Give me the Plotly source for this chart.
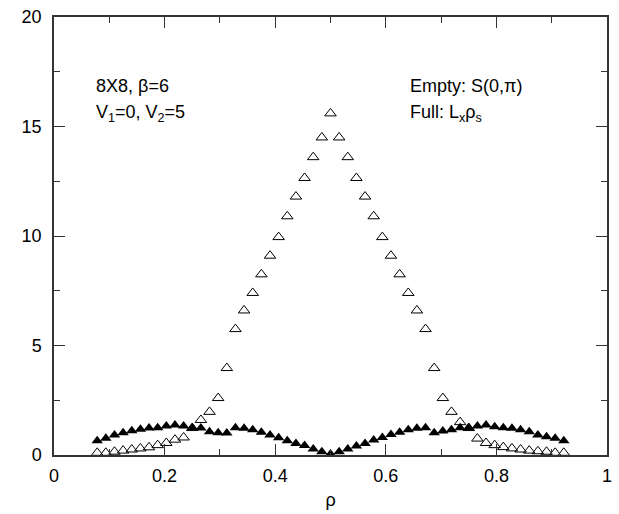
import plotly.graph_objects as go

n_sites = list(range(5, 60))
rho = [n / 64 for n in n_sites]

s_empty = [0.10, 0.10, 0.15, 0.20, 0.25, 0.30, 0.35, 0.45, 0.55, 0.70,
           0.80, 1.23, 1.60, 1.97, 2.60, 3.97, 5.75, 6.60, 7.40, 8.25,
           9.10, 9.95, 10.90, 11.80, 12.65, 13.60, 14.50, 15.60, 14.50, 13.60,
           12.65, 11.80, 10.90, 9.95, 9.10, 8.25, 7.40, 6.60, 5.75, 3.97,
           2.60, 1.97, 1.50, 1.23, 0.75, 0.55, 0.45, 0.36, 0.30, 0.25,
           0.20, 0.17, 0.15, 0.10, 0.10]

lx_rhos = [0.65, 0.77, 0.91, 1.02, 1.11, 1.18, 1.23, 1.25, 1.32, 1.37,
           1.32, 1.25, 1.23, 1.06, 1.02, 1.00, 1.25, 1.22, 1.15, 1.04,
           0.91, 0.79, 0.65, 0.53, 0.43, 0.27, 0.15, 0.05, 0.15, 0.27,
           0.41, 0.53, 0.68, 0.80, 0.94, 1.04, 1.15, 1.22, 1.24, 1.02,
           1.10, 1.15, 1.25, 1.25, 1.32, 1.37, 1.29, 1.25, 1.22, 1.15,
           1.06, 0.91, 0.83, 0.76, 0.65]

x_ticks = [0, 0.2, 0.4, 0.6, 0.8, 1]
x_tick_text = ["0", "0.2", "0.4", "0.6", "0.8", "1"]
y_ticks = [0, 5, 10, 15, 20]

fig = go.Figure()
fig.add_trace(go.Scatter(
    x=rho, y=s_empty, mode="markers",
    marker=dict(symbol="triangle-up-open", size=10, color="black",
                line=dict(width=1, color="black")),
    showlegend=False, cliponaxis=False))
fig.add_trace(go.Scatter(
    x=rho, y=lx_rhos, mode="markers",
    marker=dict(symbol="triangle-up", size=10, color="black",
                line=dict(width=0)),
    showlegend=False, cliponaxis=False))

font = dict(family="Liberation Sans, Arial, sans-serif", size=18, color="black")

axis_common = dict(
    showgrid=False, zeroline=False, showline=True, linecolor="#333333",
    linewidth=1.5, mirror="ticks", ticks="inside", ticklen=11,
    tickwidth=1.2, tickcolor="#333333", tickfont=font,
)

fig.update_xaxes(range=[0, 1], tickvals=x_ticks, ticktext=x_tick_text,
                 ticklabelstandoff=4,
                 title=dict(text="ρ", font=font, standoff=8),
                 minor=dict(dtick=0.1, ticks="inside", ticklen=6,
                            tickcolor="#333333", tickwidth=1.2),
                 **axis_common)
fig.update_yaxes(range=[0, 20], tickvals=y_ticks,
                 ticklabelstandoff=7,
                 minor=dict(dtick=2.5, ticks="inside", ticklen=6,
                            tickcolor="#333333", tickwidth=1.2),
                 **axis_common)

annots = [
    (0.072, 16.85, "8X8, β=6"),
    (0.072, 15.6, "V<sub>1</sub>=0, V<sub>2</sub>=5"),
    (0.64, 16.85, "Empty: S(0,π)"),
    (0.64, 15.6, "Full: L<sub>x</sub>ρ<sub>s</sub>"),
]
for x, y, t in annots:
    fig.add_annotation(x=x, y=y, text=t, showarrow=False, xanchor="left",
                       yanchor="middle", font=font)

fig.update_layout(
    width=619, height=514,
    margin=dict(l=54, r=7, t=17, b=59),
    paper_bgcolor="white", plot_bgcolor="white",
    font=font,
)

fig.write_html("out.html")
